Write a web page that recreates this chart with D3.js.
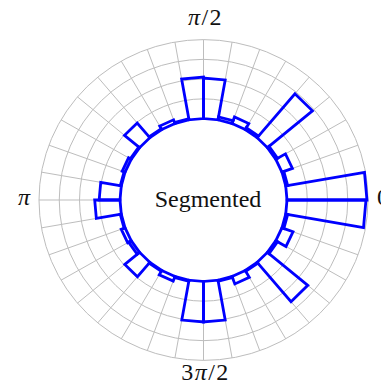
<!DOCTYPE html>
<html>
<head>
<meta charset="utf-8">
<script src="https://cdn.jsdelivr.net/npm/d3@7"></script>
<style>
  body { margin: 0; background: #fff; }
  text { font-family: "Liberation Serif", "DejaVu Serif", serif; fill: #111; }
</style>
</head>
<body>
<svg id="chart" width="381" height="388"></svg>
<script>
// bin start angles in degrees (counter-clockwise from 0), 10 degree bins
var binStarts = d3.range(0, 360, 10);
var binValues = [3.95, 0.1, 0.55, 0.1, 2.9, 0.1, 0.35, 0.15, 2.05, 2.1,
                 0.05, 0.2, 0.05, 0.97, 0.05, 0.15, 0.05, 1.03, 1.25, 0.05,
                 0.2, 0.15, 0.95, 0.05, 0.25, 0.05, 2.05, 2.05, 0.05, 0.4,
                 0.05, 2.6, 0.1, 0.58, 0.1, 3.9];
var ringValues = [0, 1, 2, 3, 4];
var spokeAngles = d3.range(0, 360, 10);
var tickAngles = [0, 90, 180, 270];
var tickLabels = ["0", "π/2", "π", "3π/2"];
var centerLabel = "Segmented";

var cx = 203.5, cy = 200, ky = 0.975;

var r = d3.scaleLinear().domain([0, 4]).range([83.5, 164.5]);
var a = d3.scaleLinear().domain([0, 360]).range([0, 2 * Math.PI]);

function px(deg, v) { return cx + r(v) * Math.cos(a(deg)); }
function py(deg, v) { return cy - r(v) * Math.sin(a(deg)) * ky; }

var svg = d3.select("#chart");

// Grid rings
svg.append("g").selectAll("ellipse")
    .data(ringValues)
    .enter().append("ellipse")
    .attr("cx", cx).attr("cy", cy)
    .attr("rx", function (d) { return r(d); })
    .attr("ry", function (d) { return r(d) * ky; })
    .attr("fill", "none")
    .attr("stroke", "#bdbdbd")
    .attr("stroke-width", 1);

// Grid spokes
svg.append("g").selectAll("line")
    .data(spokeAngles)
    .enter().append("line")
    .attr("x1", function (d) { return px(d, 0); })
    .attr("y1", function (d) { return py(d, 0); })
    .attr("x2", function (d) { return px(d, 4); })
    .attr("y2", function (d) { return py(d, 4); })
    .attr("stroke", "#bdbdbd")
    .attr("stroke-width", 1);

// Bars
var line = d3.line()
    .x(function (d) { return px(d[0], d[1]); })
    .y(function (d) { return py(d[0], d[1]); });

svg.append("g").selectAll("path")
    .data(binStarts)
    .enter().append("path")
    .attr("d", function (d, i) {
        var v = binValues[i];
        return line([[d, 0], [d, v], [d + 10, v], [d + 10, 0]]) + "Z";
    })
    .attr("fill", "none")
    .attr("stroke", "#0000ff")
    .attr("stroke-width", 2.8)
    .attr("stroke-linejoin", "miter");

// Angle labels
var labels = svg.append("g");
tickAngles.forEach(function (deg, i) {
    var c = Math.round(Math.cos(a(deg))), s = Math.round(Math.sin(a(deg)));
    var t = labels.append("text")
        .attr("font-size", 24)
        .attr("letter-spacing", tickLabels[i].length > 1 ? 1.5 : 0);
    if (s === 0) {
        t.attr("x", cx + c * 173.5)
         .attr("y", cy + 5)
         .attr("text-anchor", c > 0 ? "start" : "end");
    } else {
        t.attr("x", cx + 2)
         .attr("y", s > 0 ? cy - 175 : cy + 180)
         .attr("text-anchor", "middle");
    }
    tickLabels[i].split("").forEach(function (ch) {
        t.append("tspan").text(ch)
            .attr("font-style", ch === "π" ? "italic" : "normal");
    });
});

// Center label
svg.append("text")
    .attr("x", cx + 4.5)
    .attr("y", cy + 7)
    .attr("text-anchor", "middle")
    .attr("font-size", 24)
    .text(centerLabel);
</script>
</body>
</html>
